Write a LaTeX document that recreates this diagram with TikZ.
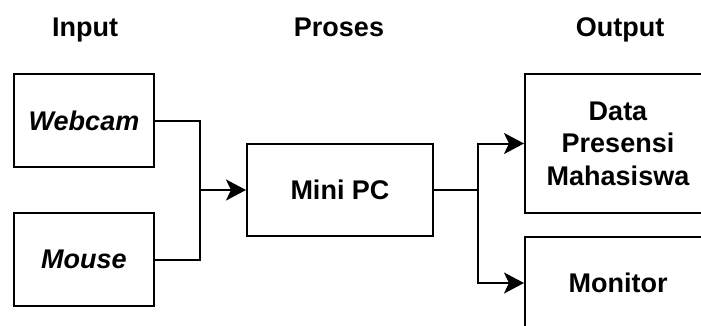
\documentclass[tikz,border=0pt]{standalone}
\usepackage{fontspec}
\setmainfont{Liberation Sans}
\usetikzlibrary{arrows.meta}
\tikzset{
  block/.style={draw=black, line width=2pt, fill=white, inner sep=0pt,
    font=\fontsize{27}{32.4}\selectfont\bfseries, align=center},
  title/.style={font=\fontsize{27}{32.4}\selectfont\bfseries, anchor=base, inner sep=0pt},
  link/.style={draw=black, line width=2pt},
  arrowlink/.style={link, -{Stealth[length=20pt,width=21pt,inset=5pt]}}
}
\begin{document}
\begin{tikzpicture}[x=1pt,y=-1pt]
  \useasboundingbox (0,0) rectangle (701,325);
  \clip (0,0) rectangle (701,325);
  \fill[white] (0,0) rectangle (701,325);

  % column headings
  \node[title] (tin)  at (85,36)  {Input};
  \node[title] (tpro) at (339,36) {Proses};
  \node[title] (tout) at (620,36) {Output};

  % blocks
  \node[block, minimum width=140pt, minimum height=93pt] (webcam) at (84,120.5) {\itshape Webcam};
  \node[block, minimum width=140pt, minimum height=93pt] (mouse)  at (84,259.5) {\itshape Mouse};
  \node[block, minimum width=186pt, minimum height=92pt] (minipc) at (340,190) {Mini PC};
  \node[block, minimum width=186pt, minimum height=139pt] (data)  at (618,143.5) {Data\\Presensi\\Mahasiswa};
  \node[block, minimum width=186pt, minimum height=92pt] (monitor) at (618,283) {Monitor};

  % junction points
  \coordinate (jin)  at (200,190);
  \coordinate (jout) at (478,190);

  % inputs merge into the Mini PC
  \draw[link] (webcam.east) -| (jin);
  \draw[link] (mouse.east) -| (jin);
  \draw[arrowlink] (jin) -- (minipc.west);

  % Mini PC splits to the outputs
  \draw[link] (minipc.east) -- (jout);
  \draw[arrowlink] (jout) |- (data.west);
  \draw[arrowlink] (jout) |- (monitor.west);
\end{tikzpicture}
\end{document}
